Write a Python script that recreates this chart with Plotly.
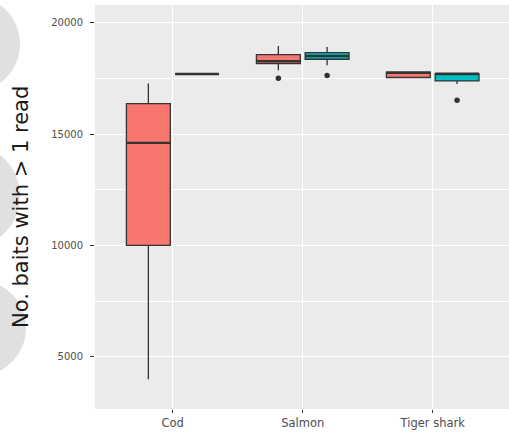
import plotly.graph_objects as go

# Species on the x axis
categories = ["Cod", "Salmon", "Tiger shark"]

# Box statistics per species, first group (red)
red_lower = [3980, 17875, 17550]
red_q1 = [10000, 18176, 17550]
red_median = [14609, 18279, 17760]
red_q3 = [16379, 18580, 17785]
red_upper = [17278, 18967, 17785]
red_outliers = [[], [17516], []]

# Box statistics per species, second group (teal)
teal_lower = [17709, 18100, 17260]
teal_q1 = [17709, 18369, 17394]
teal_median = [17709, 18518, 17715]
teal_q3 = [17709, 18670, 17727]
teal_upper = [17709, 18922, 17727]
teal_outliers = [[], [17637], [16528]]

y_ticks = [5000, 10000, 15000, 20000]
y_minor = [2500, 7500, 12500, 17500]

DODGE = 0.1875
BOX_W = 0.3375
EDGE = "#333333"

groups = [
    ("Group 1", "#F8766D", -DODGE, red_lower, red_q1, red_median, red_q3, red_upper, red_outliers),
    ("Group 2", "#00BFC4", DODGE, teal_lower, teal_q1, teal_median, teal_q3, teal_upper, teal_outliers),
]

fig = go.Figure()

for name, color, off, lo, q1, med, q3, hi, outs in groups:
    xs = [i + off for i in range(len(categories))]
    fig.add_trace(go.Box(
        name=name, x=xs, q1=q1, median=med, q3=q3,
        lowerfence=lo, upperfence=hi, width=BOX_W,
        fillcolor=color, line=dict(color=EDGE, width=1.3),
        whiskerwidth=0, boxpoints=False, hoverinfo="skip",
        showlegend=False,
    ))
    # thicker median bar, as in ggplot
    mx, my = [], []
    for x, m in zip(xs, med):
        mx += [x - BOX_W / 2, x + BOX_W / 2, None]
        my += [m, m, None]
    fig.add_trace(go.Scatter(x=mx, y=my, mode="lines",
                             line=dict(color=EDGE, width=2.4),
                             hoverinfo="skip", showlegend=False))
    # outlying points
    ox, oy = [], []
    for x, pts in zip(xs, outs):
        for p in pts:
            ox.append(x)
            oy.append(p)
    fig.add_trace(go.Scatter(x=ox, y=oy, mode="markers",
                             marker=dict(color=EDGE, size=5.5),
                             hoverinfo="skip", showlegend=False))

W, H = 509, 434
L, R, T, B = 95, 0, 5, 25
pw, ph = W - L - R, H - T - B


def px_circle(cx, cy, r):
    # circle given in pixels, converted to paper coordinates
    return dict(
        type="circle", xref="paper", yref="paper", layer="below",
        x0=(cx - r - L) / pw, x1=(cx + r - L) / pw,
        y0=(H - B - (cy + r)) / ph, y1=(H - B - (cy - r)) / ph,
        fillcolor="#E0E0E0", line=dict(width=0),
    )


fig.update_layout(
    width=W, height=H,
    margin=dict(l=L, r=R, t=T, b=B, pad=0),
    paper_bgcolor="white",
    plot_bgcolor="#EBEBEB",
    font=dict(family="DejaVu Sans", color="#4D4D4D"),
    shapes=[px_circle(-28, 44, 48), px_circle(-32, 196, 52), px_circle(-22, 328, 48)],
    annotations=[dict(
        text="No. baits with > 1 read", textangle=-90,
        xref="paper", yref="paper", x=(21 - L) / pw, y=0.5,
        xanchor="center", yanchor="middle", showarrow=False,
        font=dict(family="DejaVu Sans", size=21, color="#1A1A1A"),
    )],
)

fig.update_xaxes(
    range=[-0.598, 2.587],
    tickmode="array", tickvals=list(range(len(categories))), ticktext=categories,
    showgrid=True, gridcolor="white", gridwidth=1.2,
    zeroline=False, showline=False,
    ticks="outside", ticklen=3, tickcolor=EDGE, tickwidth=1,
    tickfont=dict(size=11.5, color="#4D4D4D"),
)
fig.update_yaxes(
    range=[2646, 20809],
    tickmode="array", tickvals=y_ticks, ticktext=[str(v) for v in y_ticks],
    showgrid=True, gridcolor="white", gridwidth=1.2,
    minor=dict(tickmode="array", tickvals=y_minor, showgrid=True,
               gridcolor="white", gridwidth=0.6, ticks=""),
    zeroline=False, showline=False,
    ticks="outside", ticklen=4, tickcolor=EDGE, tickwidth=1,
    tickfont=dict(size=10, color="#4D4D4D"),
    ticklabelstandoff=5,
)

fig.write_html("out.html")
